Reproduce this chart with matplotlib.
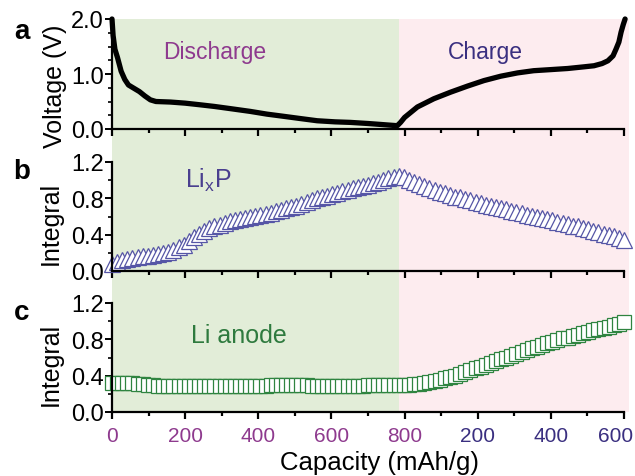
import matplotlib
matplotlib.use("Agg")
import matplotlib.pyplot as plt
import matplotlib.transforms as mtrans
from matplotlib.ticker import MultipleLocator, FixedLocator
from matplotlib.patches import Rectangle

plt.rcParams['font.family'] = ['Liberation Sans', 'DejaVu Sans']
plt.rcParams['mathtext.default'] = 'regular'

# ---------------- data ----------------
# Panel a: voltage profile (discharge then charge, plotted on one continuous capacity axis)
volt_cap = [0, 3, 8, 15, 25, 35, 45, 60, 75, 90, 105, 120, 160, 200, 241, 280, 324, 378, 424,
            470, 515, 561, 610, 652, 700, 740, 780,
            789, 800, 835, 880, 926, 972, 1017, 1063, 1109, 1153, 1200, 1246, 1290, 1318,
            1340, 1356, 1370, 1378, 1386, 1392, 1398, 1403]
volt_val = [2.0, 1.70, 1.45, 1.30, 1.05, 0.90, 0.80, 0.74, 0.68, 0.60, 0.53, 0.50, 0.49, 0.47,
            0.44, 0.41, 0.37, 0.32, 0.27, 0.23, 0.19, 0.15, 0.13, 0.12, 0.10, 0.08, 0.06,
            0.12, 0.21, 0.40, 0.55, 0.67, 0.78, 0.88, 0.96, 1.02, 1.06, 1.08, 1.10, 1.13, 1.15,
            1.19, 1.24, 1.33, 1.45, 1.58, 1.76, 1.90, 2.0]

# Panels b and c: integral values, discharge 0-784 and charge (offset axis) 798-1400
int_cap = [0, 14, 28, 42, 56, 70, 84, 98, 112, 126, 140, 154, 168, 182, 196, 210, 224, 238,
           252, 266, 280, 294, 308, 322, 336, 350, 364, 378, 392, 406, 420, 434, 448, 462,
           476, 490, 504, 518, 532, 546, 560, 574, 588, 602, 616, 630, 644, 658, 672, 686,
           700, 714, 728, 742, 756, 770, 784,
           798, 812, 826, 840, 854, 868, 882, 896, 910, 924, 938, 952, 966, 980, 994, 1008,
           1022, 1036, 1050, 1064, 1078, 1092, 1106, 1120, 1134, 1148, 1162, 1176, 1190,
           1204, 1218, 1232, 1246, 1260, 1274, 1288, 1302, 1316, 1330, 1344, 1358, 1372,
           1386, 1400]
lixp_val = [0.08, 0.10, 0.12, 0.13, 0.14, 0.15, 0.16, 0.17, 0.18, 0.19, 0.20, 0.21, 0.23,
            0.26, 0.29, 0.33, 0.37, 0.41, 0.44, 0.47, 0.49, 0.51, 0.53, 0.55, 0.56, 0.57,
            0.58, 0.60, 0.61, 0.62, 0.63, 0.64, 0.66, 0.67, 0.69, 0.71, 0.72, 0.74, 0.76,
            0.78, 0.80, 0.82, 0.83, 0.85, 0.86, 0.88, 0.89, 0.91, 0.92, 0.94, 0.95, 0.97,
            0.98, 1.00, 1.02, 1.03, 1.05,
            1.03, 1.00, 0.98, 0.96, 0.94, 0.91, 0.89, 0.87, 0.86, 0.84, 0.82, 0.81, 0.79,
            0.78, 0.76, 0.75, 0.73, 0.72, 0.71, 0.69, 0.68, 0.66, 0.65, 0.64, 0.62, 0.61,
            0.60, 0.58, 0.57, 0.56, 0.54, 0.53, 0.52, 0.50, 0.49, 0.47, 0.46, 0.44, 0.43,
            0.41, 0.40, 0.38, 0.36, 0.34]
lian_val = [0.32, 0.32, 0.32, 0.32, 0.32, 0.31, 0.31, 0.30, 0.30, 0.29, 0.29, 0.29, 0.29,
            0.29, 0.29, 0.29, 0.29, 0.29, 0.29, 0.29, 0.29, 0.29, 0.29, 0.29, 0.29, 0.29,
            0.29, 0.29, 0.29, 0.29, 0.29, 0.30, 0.30, 0.30, 0.30, 0.30, 0.30, 0.30, 0.30,
            0.29, 0.29, 0.29, 0.29, 0.29, 0.29, 0.29, 0.29, 0.29, 0.29, 0.29, 0.30, 0.30,
            0.30, 0.30, 0.30, 0.30, 0.30,
            0.30, 0.30, 0.31, 0.31, 0.32, 0.33, 0.34, 0.35, 0.37, 0.38, 0.40, 0.42, 0.44,
            0.46, 0.48, 0.50, 0.52, 0.54, 0.56, 0.58, 0.60, 0.62, 0.64, 0.66, 0.68, 0.70,
            0.72, 0.74, 0.76, 0.77, 0.79, 0.81, 0.82, 0.84, 0.85, 0.87, 0.88, 0.90, 0.91,
            0.93, 0.94, 0.96, 0.97, 0.99]

x_tick_pos = [0, 200, 400, 600, 800, 1000, 1200, 1400]
x_tick_lab = ['0', '200', '400', '600', '800', '200', '400', '600']
discharge_end = 785
shade_end = 1413

# ---------------- style ----------------
PURPLE = '#8e3a8e'
INDIGO = '#3a2f80'
GREEN_BG = '#e2edd8'
PINK_BG = '#fdecef'
TRI_COL = '#5656a6'
SQ_COL = '#2f8440'

W, H = 635, 477
fig = plt.figure(figsize=(W / 100, H / 100), dpi=100)

left = 112 / W
width = 512 / W

def fy(px):
    return 1 - px / H

# background shading
bg = fig.add_axes([left, fy(413), width, (413 - 20) / H], zorder=0)
bg.set_xlim(0, 1400)
bg.set_ylim(0, 1)
bg.axis('off')
bg.add_patch(Rectangle((0, 0), discharge_end, 1, color=GREEN_BG, lw=0, clip_on=False))
bg.add_patch(Rectangle((discharge_end, 0), shade_end - discharge_end, 1, color=PINK_BG, lw=0,
                       clip_on=False))

ax_a = fig.add_axes([left, fy(130), width, 110 / H], zorder=2)
ax_b = fig.add_axes([left, fy(272), width, 109 / H], zorder=2)
ax_c = fig.add_axes([left, fy(413), width, 109 / H], zorder=2)

for ax in (ax_a, ax_b, ax_c):
    ax.patch.set_alpha(0)
    ax.set_xlim(0, 1400)
    for s in ('top', 'right'):
        ax.spines[s].set_visible(False)
    for s in ('left', 'bottom'):
        ax.spines[s].set_linewidth(1.6)
    ax.xaxis.set_major_locator(FixedLocator(x_tick_pos))
    ax.xaxis.set_minor_locator(MultipleLocator(100))
    ax.tick_params(axis='x', which='major', direction='out', length=5, width=1.6)
    ax.tick_params(axis='x', which='minor', direction='out', length=3, width=1.6)
    ax.tick_params(axis='y', which='major', direction='out', length=5, width=1.4,
                   labelsize=17, pad=1)
    ax.tick_params(axis='y', which='minor', direction='out', length=3, width=1.2)
    ax.set_xticklabels([])

# panel a
ax_a.plot(volt_cap, volt_val, color='black', lw=3.8, solid_capstyle='round', clip_on=False)
ax_a.set_ylim(0, 2.0)
ax_a.yaxis.set_minor_locator(MultipleLocator(0.25))
ax_a.set_yticks([0, 1, 2])
ax_a.set_yticklabels(['0.0', '1.0', '2.0'])
ax_a.set_ylabel('Voltage (V)', fontsize=18)
ax_a.yaxis.set_label_coords(-0.088, 0.40)

# panel b
ax_b.plot(int_cap, lixp_val, linestyle='none', marker='^', markersize=12,
          markerfacecolor='white', markeredgecolor=TRI_COL, markeredgewidth=0.9, clip_on=False)
ax_b.set_ylim(0, 1.2)
ax_b.set_yticks([0, 0.4, 0.8, 1.2])
ax_b.set_yticklabels(['0.0', '0.4', '0.8', '1.2'])
ax_b.yaxis.set_minor_locator(MultipleLocator(0.2))
ax_b.set_ylabel('Integral', fontsize=18)
ax_b.yaxis.set_label_coords(-0.097, 0.45)

# panel c
ax_c.plot(int_cap, lian_val, linestyle='none', marker='s', markersize=9.5,
          markerfacecolor='white', markeredgecolor=SQ_COL, markeredgewidth=0.9, clip_on=False)
ax_c.set_ylim(0, 1.2)
ax_c.set_yticks([0, 0.4, 0.8, 1.2])
ax_c.set_yticklabels(['0.0', '0.4', '0.8', '1.2'])
ax_c.yaxis.set_minor_locator(MultipleLocator(0.2))
ax_c.set_ylabel('Integral', fontsize=18)
ax_c.yaxis.set_label_coords(-0.097, 0.45)
ax_c.set_xticklabels(x_tick_lab, fontsize=15)
ax_c.tick_params(axis='x', which='major', pad=5)
ax_c.set_xlabel('Capacity (mAh/g)', fontsize=18.5, labelpad=0)
ax_c.xaxis.set_label_coords(0.523, -0.345)

# tick colours: discharge purple, charge indigo
for ax in (ax_a, ax_b, ax_c):
    for pos, t in zip(x_tick_pos, ax.xaxis.get_major_ticks()):
        c = PURPLE if pos <= 800 else INDIGO
        t.tick1line.set_color(c)
        t.label1.set_color(c)
    for t, pos in zip(ax.xaxis.get_minor_ticks(), ax.xaxis.get_minorticklocs()):
        c = PURPLE if pos <= 800 else INDIGO
        t.tick1line.set_color(c)

# nudge the last x tick label left so it stays inside the figure
last_lab = ax_c.xaxis.get_major_ticks()[-1].label1
last_lab.set_transform(last_lab.get_transform() +
                       mtrans.ScaledTranslation(-8 / 100, 0, fig.dpi_scale_trans))

# annotations
fig.text(215 / W, fy(53), 'Discharge', color=PURPLE, fontsize=16.5, ha='center', va='center')
fig.text(485 / W, fy(53), 'Charge', color=INDIGO, fontsize=16.5, ha='center', va='center')
fig.text(208 / W, fy(180), r'Li$_\mathregular{x}$P', color='#4a3f8f', fontsize=18,
         ha='center', va='center')
fig.text(239 / W, fy(336), 'Li anode', color='#2e7a3e', fontsize=18, ha='center', va='center')

for lab, yy in (('a', 32), ('b', 172), ('c', 313)):
    fig.text(22 / W, fy(yy), lab, fontsize=20, fontweight='bold', ha='center', va='center')

fig.savefig('out.png', dpi=100)
